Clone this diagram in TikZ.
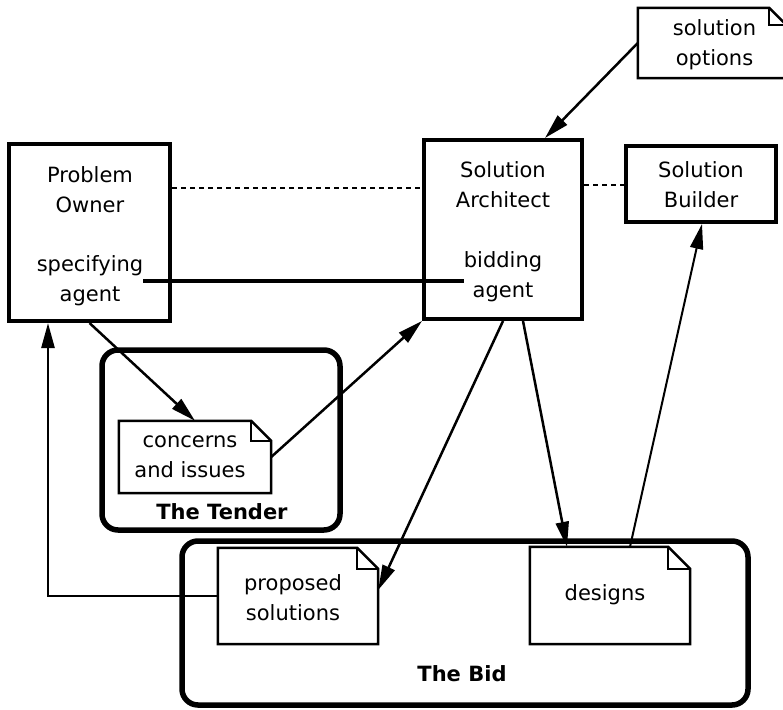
\documentclass[tikz,border=0pt]{standalone}
\usepackage{fontspec}
\setmainfont{DejaVu Sans}
\usetikzlibrary{arrows.meta}

% document symbol: page with a folded top-right corner
\newcommand\drawdoc[2]{%
  \draw[docpen] (#1.north west) -- ([xshift=-#2]#1.north east)
    -- ([yshift=-#2]#1.north east) -- (#1.south east)
    -- (#1.south west) -- cycle;
  \draw[foldpen] ([xshift=-#2]#1.north east) |- ([yshift=-#2]#1.north east);}

\begin{document}
\begin{tikzpicture}[x=1pt,y=-1pt,
  txt/.style={align=center, inner sep=0pt, font=\fontsize{21}{30}\selectfont},
  grouplabel/.style={inner sep=0pt, font=\fontsize{21}{30}\selectfont\bfseries},
  rolebox/.style={draw, line width=4pt, inner sep=0pt},
  groupbox/.style={draw, line width=5.5pt, rounded corners=16pt, inner sep=0pt},
  docnode/.style={align=center, inner sep=0pt, font=\fontsize{21}{30}\selectfont},
  docpen/.style={line width=2.5pt, line join=miter},
  foldpen/.style={line width=1.6pt},
  flow/.style={line width=2.5pt, line join=miter, -{Triangle[length=25pt,width=13pt]}},
  thinflow/.style={line width=2pt, -{Triangle[length=25pt,width=13pt]}},
  peer/.style={line width=2pt, dash pattern=on 5pt off 4pt},
  bond/.style={line width=4pt}
]
\useasboundingbox (0,0) rectangle (783,709);

% groupings
\node[groupbox, minimum width=238pt, minimum height=180pt] (tender) at (221,440) {};
\node[grouplabel] (tenderlabel) at (222,512) {The Tender};
\node[groupbox, minimum width=566pt, minimum height=164pt] (bid) at (465,623) {};
\node[grouplabel] (bidlabel) at (462,674) {The Bid};

% roles
\node[rolebox, minimum width=161pt, minimum height=177pt] (po) at (89.5,232.5) {};
\node[txt] (potitle) at (90,189.5) {Problem\\Owner};
\node[txt] (porole) at (90,281) {specifying\\agent};

\node[rolebox, minimum width=158pt, minimum height=179pt] (sa) at (503,229.5) {};
\node[txt] (satitle) at (503,185) {Solution\\Architect};
\node[txt] (sarole) at (503,277) {bidding\\agent};

\node[rolebox, minimum width=150pt, minimum height=76pt] (sb) at (701,184) {};
\node[txt] (sbtitle) at (701,185) {Solution\\Builder};

% documents
\node[docnode, minimum width=148pt, minimum height=70pt] (so) at (712,43) {};
\node[txt] (sotext) at (714.5,45) {solution\\options};
\drawdoc{so}{17pt}

\node[docnode, minimum width=152pt, minimum height=72pt] (ci) at (195,457) {};
\node[txt] (citext) at (190,457) {concerns\\and issues};
\drawdoc{ci}{20pt}

\node[docnode, minimum width=160pt, minimum height=96pt] (pp) at (298,596) {};
\node[txt] (pptext) at (293,598) {proposed\\solutions};
\drawdoc{pp}{21pt}

\node[docnode, minimum width=160pt, minimum height=97pt] (ds) at (610,595.5) {};
\node[txt] (dstext) at (605,595) {designs};
\drawdoc{ds}{22pt}

% peer relations between roles
\draw[peer] (po.east |- 0,188) -- (sa.west |- 0,188);
\draw[peer] (sa.east |- 0,185) -- (sb.west |- 0,185);
\draw[bond] (porole.east) -- (porole.east -| sarole.west);

% document flows
\draw[flow] (so.west) -- ([xshift=42pt]sa.north);
\draw[flow] (po.south) -- (ci.north);
\draw[flow] (ci.east) -- (sa.south west);
\draw[flow] (sa.south) -- ([yshift=6pt]pp.east);
\draw[flow] ([xshift=20pt]sa.south) -- ([xshift=-43pt]ds.north);
\draw[thinflow] ([xshift=20pt]ds.north) -- ([xshift=1pt]sb.south);
\draw[flow] (pp.west) -| ([xshift=-41.5pt]po.south);
\end{tikzpicture}
\end{document}
